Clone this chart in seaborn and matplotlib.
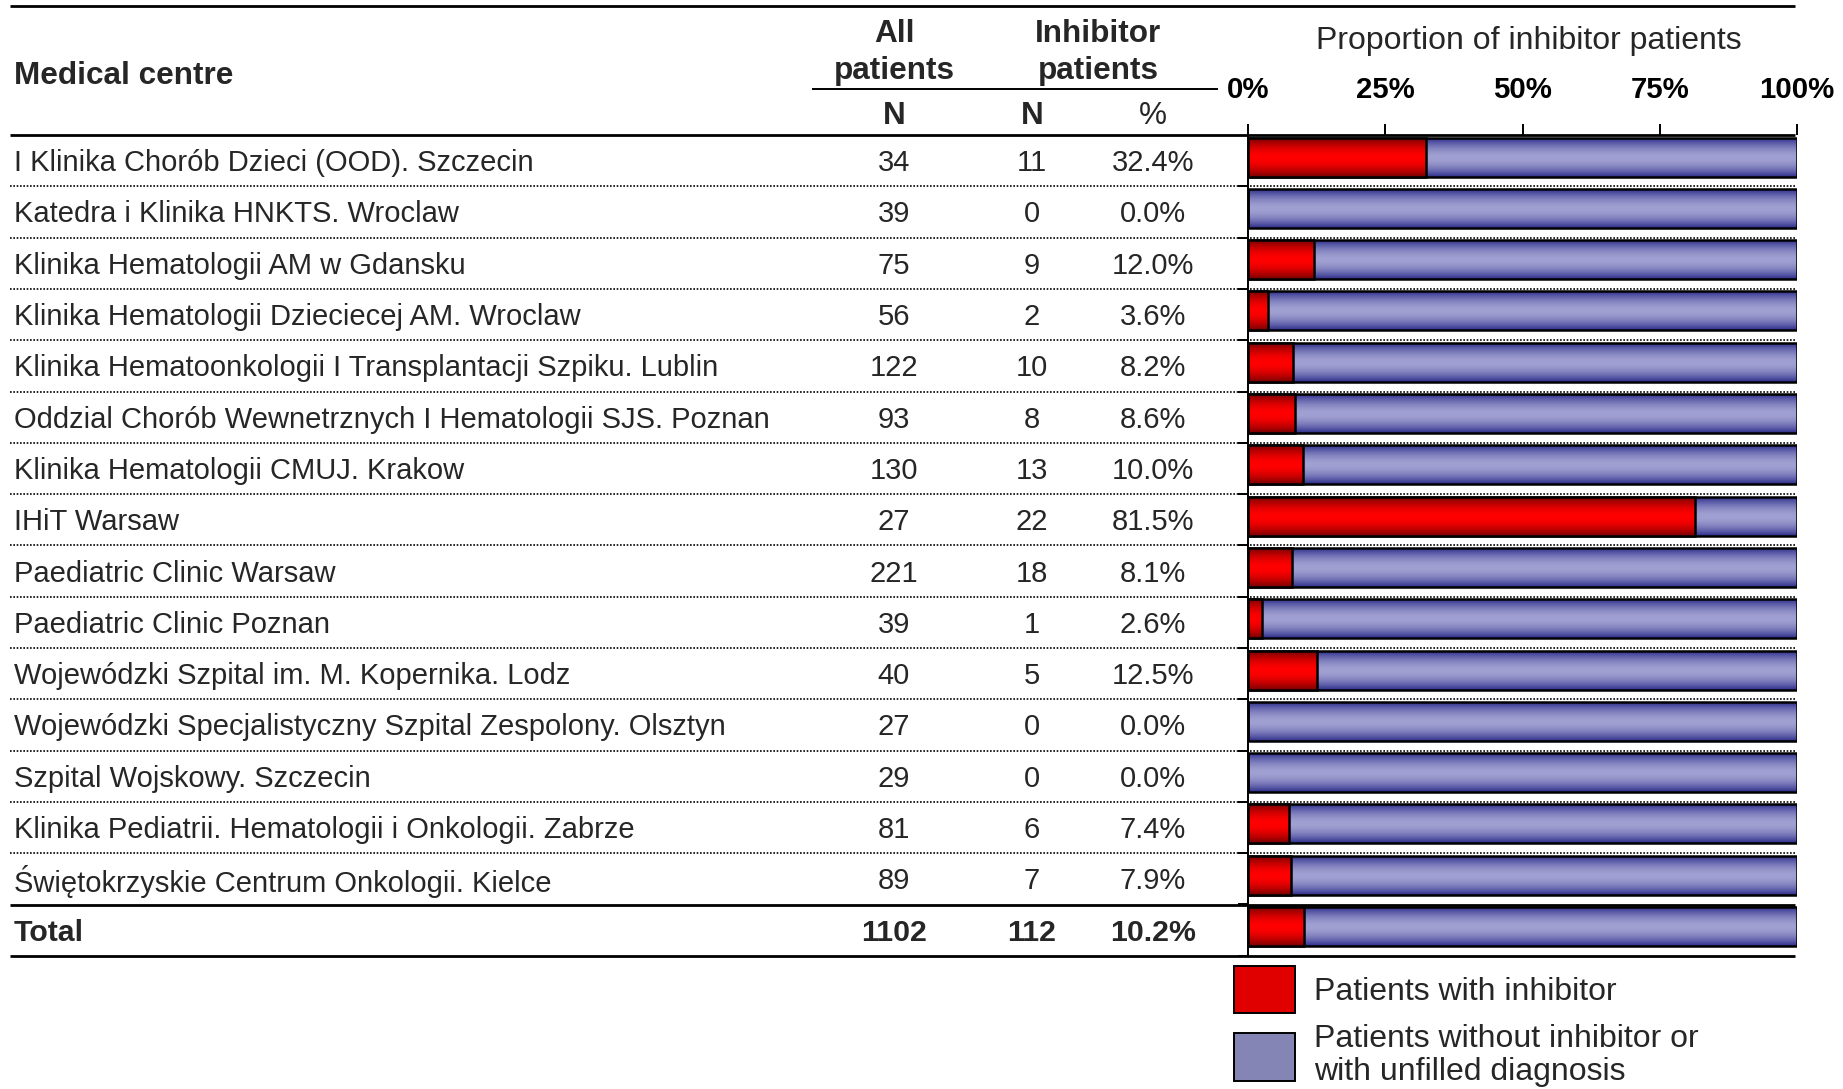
import numpy as np
import seaborn as sns
import matplotlib.pyplot as plt
from matplotlib.colors import LinearSegmentedColormap
from matplotlib.patches import Patch

# datos de la tabla
centros = [
    "I Klinika Chorób Dzieci (OOD). Szczecin",
    "Katedra i Klinika HNKTS. Wroclaw",
    "Klinika Hematologii AM w Gdansku",
    "Klinika Hematologii Dzieciecej AM. Wroclaw",
    "Klinika Hematoonkologii I Transplantacji Szpiku. Lublin",
    "Oddzial Chorób Wewnetrznych I Hematologii SJS. Poznan",
    "Klinika Hematologii CMUJ. Krakow",
    "IHiT Warsaw",
    "Paediatric Clinic Warsaw",
    "Paediatric Clinic Poznan",
    "Wojewódzki Szpital im. M. Kopernika. Lodz",
    "Wojewódzki Specjalistyczny Szpital Zespolony. Olsztyn",
    "Szpital Wojskowy. Szczecin",
    "Klinika Pediatrii. Hematologii i Onkologii. Zabrze",
    "Świętokrzyskie Centrum Onkologii. Kielce",
    "Total",
]
todos_n = [34, 39, 75, 56, 122, 93, 130, 27, 221, 39, 40, 27, 29, 81, 89, 1102]
inhib_n = [11, 0, 9, 2, 10, 8, 13, 22, 18, 1, 5, 0, 0, 6, 7, 112]
inhib_pct = [32.4, 0.0, 12.0, 3.6, 8.2, 8.6, 10.0, 81.5, 8.1, 2.6, 12.5, 0.0, 0.0, 7.4, 7.9, 10.2]
total_pct = [100.0 for _ in centros]
ticks_pct = [0, 25, 50, 75, 100]
leyenda = ["Patients with inhibitor", "Patients without inhibitor or\nwith unfilled diagnosis"]

W, H = 1843, 1089
Y0, PASO = 135.0, 51.3      # inicio de filas y alto de fila (px)
X0, X1 = 1248.0, 1797.0     # eje de barras (px)
FS = 21.0                   # texto normal
FS_B = 21.8                 # fila Total
FS_H = 22.7                 # cabeceras
FS_L = 23.0                 # titulo del eje y leyenda
OFF = 0.43                  # barras un poco por encima del centro de la fila

sns.set_theme(style="white")
plt.rcParams["font.family"] = ["Liberation Sans", "DejaVu Sans"]

fig = plt.figure(figsize=(W / 100, H / 100), dpi=100)

# eje "tabla" en pixeles
ax_t = fig.add_axes([0, 0, 1, 1])
ax_t.set_xlim(0, W)
ax_t.set_ylim(H, 0)
ax_t.axis("off")

n = len(centros)
for i, nombre in enumerate(centros):
    yc = Y0 + (i + 0.5) * PASO + 2.5
    es_total = nombre == "Total"
    peso = "bold" if es_total else "normal"
    fs = FS_B if es_total else FS
    ax_t.text(14, yc, nombre, fontsize=fs, va="center", ha="left", weight=peso)
    ax_t.text(894, yc, str(todos_n[i]), fontsize=fs, va="center", ha="center", weight=peso)
    ax_t.text(1032, yc, str(inhib_n[i]), fontsize=fs, va="center", ha="center", weight=peso)
    ax_t.text(1153, yc, f"{inhib_pct[i]:.1f}%", fontsize=fs, va="center", ha="center", weight=peso)

# cabecera
ax_t.text(14, 75.5, "Medical centre", fontsize=FS_H, weight="bold", va="center")
for xc, (l1, l2) in [(894, ("All", "patients")), (1098, ("Inhibitor", "patients"))]:
    ax_t.text(xc, 33.5, l1, fontsize=FS_H, weight="bold", ha="center", va="center")
    ax_t.text(xc, 70.5, l2, fontsize=FS_H, weight="bold", ha="center", va="center")
ax_t.text(894, 116.5, "N", fontsize=FS_H, weight="bold", ha="center", va="center")
ax_t.text(1032, 116.5, "N", fontsize=FS_H, weight="bold", ha="center", va="center")
ax_t.text(1153, 116.5, "%", fontsize=FS_H, ha="center", va="center")
ax_t.text(1529, 40.5, "Proportion of inhibitor patients", fontsize=FS_L, ha="center", va="center")

# lineas
ax_t.hlines(6, 10, 1795, color="black", lw=2)
ax_t.hlines(89, 812, 1218, color="black", lw=1.4)
ax_t.hlines(Y0, 10, 1795, color="black", lw=2)
bordes = Y0 + np.arange(1, n) * PASO
ax_t.hlines(bordes[:-1], 10, 1795, color="black", lw=1.2, linestyles=(0, (1, 1)))
ax_t.hlines([bordes[-1], Y0 + n * PASO], 10, 1795, color="black", lw=2)

# eje de barras
ax = fig.add_axes([X0 / W, 1 - (Y0 + n * PASO) / H, (X1 - X0) / W, n * PASO / H])
ax.patch.set_alpha(0)
sns.barplot(x=total_pct, y=centros, orient="h", ax=ax, color="#9999cc", saturation=1,
            width=0.76, edgecolor="black", linewidth=1.8)
sns.barplot(x=inhib_pct, y=centros, orient="h", ax=ax, color="#ff0000", saturation=1,
            width=0.76, edgecolor="black", linewidth=1.8)


def degradado(ax, patch, c_borde, c_medio, z):
    x, y = patch.get_x(), patch.get_y()
    w, h = patch.get_width(), patch.get_height()
    patch.set_facecolor("none")
    patch.set_zorder(z + 0.5)
    if w <= 0:
        return
    t = np.abs(np.linspace(-1, 1, 80)) ** 1.8
    cmap = LinearSegmentedColormap.from_list("g", [c_medio, c_borde])
    im = ax.imshow(t[:, None], cmap=cmap, vmin=0, vmax=1, extent=(x, x + w, y + h, y),
                   aspect="auto", interpolation="bicubic", zorder=z)
    im.set_clip_path(patch)


barras = list(ax.patches)
for p in barras[:n]:
    degradado(ax, p, "#2e2e8c", "#a0a0d2", 2)
for p in barras[n:]:
    degradado(ax, p, "#780000", "#ff0000", 3)

ax.set_xlim(0, 100)
ax.set_ylim(n - OFF, -OFF)
ax.xaxis.tick_top()
ax.set_xticks(ticks_pct, labels=[f"{t}%" for t in ticks_pct])
for lbl in ax.get_xticklabels():
    lbl.set_fontweight("bold")
ax.tick_params(axis="x", direction="out", length=8, width=1.4, pad=14, labelsize=21.2,
               top=True, bottom=False, colors="black")
ax.set_yticks(np.arange(1, n + 1) - OFF, labels=[])
ax.tick_params(axis="y", direction="out", length=7, width=1.4, left=True, colors="black")
ax.set_xlabel("")
ax.set_ylabel("")
for lado in ["top", "right", "bottom"]:
    ax.spines[lado].set_visible(False)
ax.spines["left"].set_color("black")
ax.spines["left"].set_linewidth(1.4)

# leyenda
manejadores = [Patch(facecolor="#e00000", edgecolor="black", lw=1.4),
               Patch(facecolor="#8585b5", edgecolor="black", lw=1.4)]
leg = ax_t.legend(manejadores, leyenda, loc="upper left", bbox_to_anchor=(1234, 966),
                  bbox_transform=ax_t.transData, frameon=False, fontsize=FS_L, borderpad=0,
                  borderaxespad=0, handlelength=1.9, handleheight=1.9, handletextpad=0.6,
                  labelspacing=0.35)
for t in leg.get_texts():
    t.set_linespacing(1.1)

fig.savefig("out.png", dpi=100)
